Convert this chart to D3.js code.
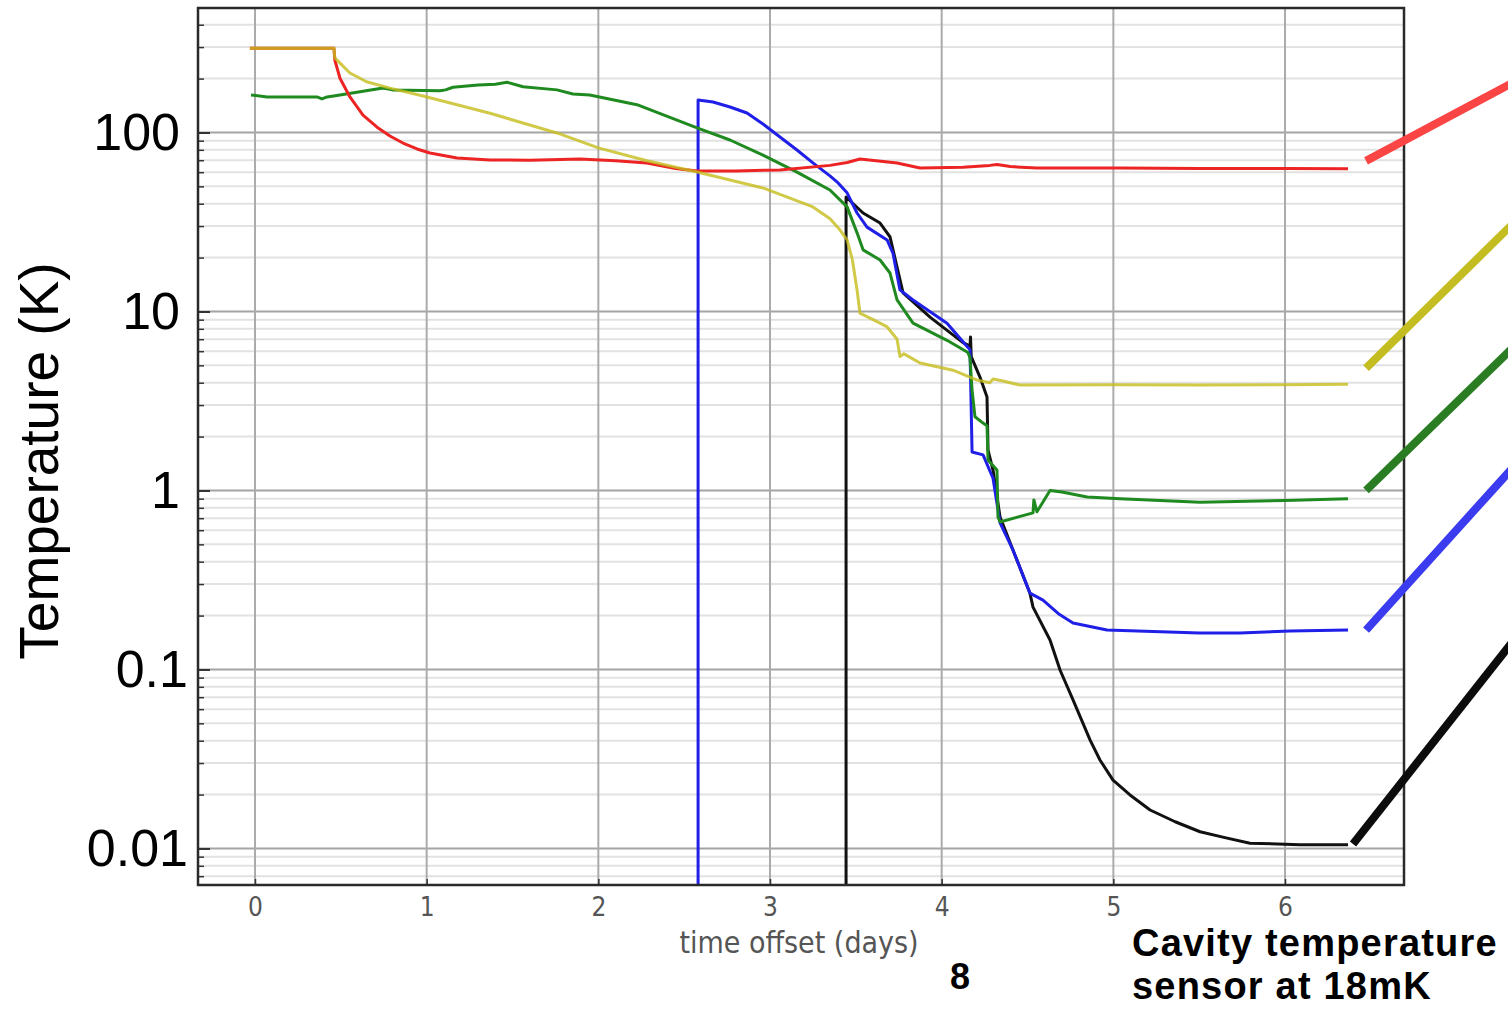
<!DOCTYPE html>
<html>
<head>
<meta charset="utf-8">
<script src="https://cdn.jsdelivr.net/npm/d3@7"></script>
<style>
  body { margin: 0; background: #fff; }
  svg { display: block; }
</style>
</head>
<body>
<div id="chart-area"></div>
<script>
// readings: [time offset (days), temperature (K)]
var redSeries = [[-0.03,296],[0.46,296],[0.465,254],[0.495,201],[0.553,158],[0.629,125],[0.711,107],[0.786,95.6],
    [0.862,87.3],[0.944,80.9],[1.019,76.8],[1.177,72],[1.369,70.2],[1.6,70],[1.893,71],[2.1,69.5],[2.283,67.6],
    [2.45,63],[2.575,61],[2.8,61],[3.058,61.8],[3.349,65.5],[3.45,68],[3.524,71.1],[3.74,67.6],[3.874,63.3],
    [4.124,64],[4.28,65.5],[4.322,66.2],[4.4,64.5],[4.555,63.3],[5.039,63.3],[5.5,63],[6.0,63],[6.367,62.8]];
var yellowSeries = [[-0.03,296],[0.46,296],[0.465,261],[0.553,215],[0.65,192],[0.786,177],[0.979,160],[1.369,128],
    [1.759,99.4],[2.0,82],[2.283,69.5],[2.575,60.1],[2.959,49],[3.25,38.4],[3.35,33],[3.408,28.5],[3.449,25.1],
    [3.48,19.4],[3.507,13.2],[3.524,9.8],[3.641,8.6],[3.682,8.2],[3.74,7.0],[3.757,5.6],[3.78,5.8],[3.874,5.15],
    [4.066,4.7],[4.206,4.14],[4.28,4.0],[4.3,4.2],[4.35,4.1],[4.456,3.88],[5.0,3.9],[5.5,3.88],[6.0,3.9],[6.367,3.92]];
var greenSeries = [[-0.023,162],[0.07,158],[0.361,158],[0.39,154],[0.42,158],[0.495,162],[0.746,177],[0.80,173],
    [1.078,171],[1.11,173],[1.153,179],[1.30,184],[1.40,186],[1.468,191],[1.561,180],[1.759,173],[1.852,164],
    [1.95,162],[2.225,143],[2.575,106],[2.767,90.8],[2.959,74.8],[3.157,60.1],[3.349,47.7],[3.449,38.4],[3.507,27.5],
    [3.542,22.1],[3.641,19.4],[3.699,16.4],[3.74,11.6],[3.833,8.6],[4.031,6.9],[4.153,5.9],[4.165,5.5],[4.177,3.64],
    [4.194,2.58],[4.241,2.38],[4.264,2.3],[4.27,1.48],[4.322,1.30],[4.328,0.71],[4.34,0.667],[4.532,0.75],
    [4.537,0.885],[4.555,0.76],[4.631,1.0],[4.70,0.98],[4.847,0.92],[5.039,0.90],[5.505,0.86],[6.0,0.88],[6.367,0.90]];
var blueSeries = [[2.581,0.001],[2.581,152],[2.668,148],[2.767,138.8],[2.866,128.5],[2.959,111.5],[3.058,94.4],
    [3.157,79.8],[3.25,67.6],[3.349,57.2],[3.39,53],[3.449,46],[3.507,35.5],[3.565,29.6],[3.682,25.1],[3.716,21.2],
    [3.757,13.2],[3.833,11.6],[4.031,8.6],[4.153,6.3],[4.165,6.1],[4.177,1.64],[4.241,1.58],[4.299,1.17],[4.34,0.66],
    [4.415,0.466],[4.514,0.267],[4.59,0.244],[4.68,0.205],[4.765,0.182],[4.963,0.166],[5.5,0.16],[5.738,0.16],
    [6.029,0.164],[6.367,0.166]];
var blackSeries = [[3.443,0.001],[3.443,43.6],[3.542,35.5],[3.641,31.2],[3.699,26.1],[3.74,17.7],[3.775,12.7],
    [3.932,9.3],[4.124,6.7],[4.165,6.4],[4.168,7.2],[4.172,5.6],[4.223,4.3],[4.264,3.33],[4.27,1.68],[4.299,1.30],
    [4.34,0.71],[4.514,0.267],[4.532,0.223],[4.631,0.146],[4.69,0.099],[4.765,0.0676],[4.864,0.0404],[4.922,0.0312],
    [4.998,0.0241],[5.097,0.0199],[5.214,0.0164],[5.36,0.0141],[5.505,0.0124],[5.65,0.0115],[5.796,0.0107],
    [6.087,0.0105],[6.367,0.0105]];

// leader lines on the right, [from, to] in the same units
var leaders = [
    {color: "#fb4444", pts: [[6.472,69.4],[7.35,195]]},
    {color: "#c4bd22", pts: [[6.472,4.83],[7.35,32.5]]},
    {color: "#2a7d22", pts: [[6.472,1.0],[7.35,6.6]]},
    {color: "#3b3bef", pts: [[6.472,0.166],[7.35,1.42]]},
    {color: "#0c0c0c", pts: [[6.396,0.0106],[7.35,0.153]]}
];

var dayTicks = [0, 1, 2, 3, 4, 5, 6];
var tempTicks = [0.01, 0.1, 1, 10, 100];
var tempLabels = ["0.01", "0.1", "1", "10", "100"];

var margin = {top: 8, right: 104, bottom: 126, left: 198};
var width = 1508 - margin.left - margin.right,
    height = 1011 - margin.top - margin.bottom;

var svg = d3.select("#chart-area").append("svg")
    .attr("width", 1508)
    .attr("height", 1011);
var g = svg.append("g")
    .attr("transform", "translate(" + margin.left + "," + margin.top + ")");

var x = d3.scaleLinear().domain([-0.332, 6.693]).range([0, width]);
var y = d3.scaleLog().domain([0.00625, 496]).range([height, 0]);

// minor decade values inside the domain
var minorTicks = [];
[0.001, 0.01, 0.1, 1, 10, 100].forEach(function(d) {
    for (var k = 2; k <= 9; k++) {
        var v = d * k;
        if (v > y.domain()[0] && v < y.domain()[1]) minorTicks.push(v);
    }
});

svg.append("defs").append("clipPath").attr("id", "plot-clip")
    .append("rect").attr("width", width).attr("height", height);

// grid
g.append("g").selectAll("line").data(minorTicks).enter().append("line")
    .attr("x1", 0).attr("x2", width)
    .attr("y1", function(d) { return y(d); }).attr("y2", function(d) { return y(d); })
    .style("stroke", "#e2e2e2").style("stroke-width", 2);
g.append("g").selectAll("line").data(tempTicks).enter().append("line")
    .attr("x1", 0).attr("x2", width)
    .attr("y1", function(d) { return y(d); }).attr("y2", function(d) { return y(d); })
    .style("stroke", "#a4a4a4").style("stroke-width", 2);
g.append("g").selectAll("line").data(dayTicks).enter().append("line")
    .attr("x1", function(d) { return x(d); }).attr("x2", function(d) { return x(d); })
    .attr("y1", 0).attr("y2", height)
    .style("stroke", "#ababab").style("stroke-width", 2);

// data lines
var line = d3.line()
    .x(function(d) { return x(d[0]); })
    .y(function(d) { return y(d[1]); });

var series = [
    {data: blackSeries, color: "#111111", opacity: 1},
    {data: blueSeries, color: "#1f1fe8", opacity: 1},
    {data: greenSeries, color: "#1f8a1f", opacity: 1},
    {data: redSeries, color: "#ec2424", opacity: 1},
    {data: yellowSeries, color: "#c6bd1c", opacity: 0.8}
];

g.append("g").attr("clip-path", "url(#plot-clip)")
    .selectAll("path").data(series).enter().append("path")
    .attr("d", function(d) { return line(d.data); })
    .style("fill", "none")
    .style("stroke", function(d) { return d.color; })
    .style("stroke-opacity", function(d) { return d.opacity; })
    .style("stroke-width", 3)
    .style("stroke-linejoin", "round");

// axes, ticks pointing inward
var yAxis = g.append("g")
    .call(d3.axisLeft(y).tickValues(tempTicks).tickSize(-12).tickPadding(18)
        .tickFormat(function(d, i) { return tempLabels[i]; }));
yAxis.select(".domain").remove();
yAxis.selectAll("line").style("stroke", "#333").style("stroke-width", 2);
yAxis.selectAll("text")
    .attr("dx", function(d, i) { return tempLabels[i].indexOf(".") >= 0 ? 8 : 0; })
    .style("font-family", "'Liberation Sans', Arial, sans-serif")
    .style("font-size", "52px")
    .style("fill", "#000");

var yMinor = g.append("g")
    .call(d3.axisLeft(y).tickValues(minorTicks).tickSize(-6).tickFormat(""));
yMinor.select(".domain").remove();
yMinor.selectAll("line").style("stroke", "#333").style("stroke-width", 1.5);

var xAxis = g.append("g")
    .attr("transform", "translate(0," + height + ")")
    .call(d3.axisBottom(x).tickValues(dayTicks).tickSize(-6).tickPadding(13).tickFormat(d3.format("d")));
xAxis.select(".domain").remove();
xAxis.selectAll("line").style("stroke", "#333").style("stroke-width", 1.5);
xAxis.selectAll("text")
    .style("font-family", "'DejaVu Sans Condensed', 'DejaVu Sans', sans-serif")
    .style("font-size", "26px")
    .style("fill", "#555");

// frame
g.append("rect")
    .attr("width", width).attr("height", height)
    .style("fill", "none").style("stroke", "#2a2a2a").style("stroke-width", 2.5);

// axis titles
svg.append("text")
    .attr("transform", "translate(58,461) rotate(-90)")
    .style("text-anchor", "middle")
    .style("font-family", "'Liberation Sans', Arial, sans-serif")
    .style("font-size", "55px")
    .text("Temperature (K)");

svg.append("text")
    .attr("x", 799).attr("y", 953)
    .style("text-anchor", "middle")
    .style("font-family", "'DejaVu Sans Condensed', 'DejaVu Sans', sans-serif")
    .style("font-size", "30px")
    .style("fill", "#555")
    .text("time offset (days)");

svg.append("text")
    .attr("x", 960).attr("y", 989)
    .style("text-anchor", "middle")
    .style("font-family", "'Liberation Sans Narrow', 'Liberation Sans', Arial, sans-serif")
    .style("font-weight", "bold")
    .style("font-size", "36px")
    .text("8");

// annotation
var noteLines = ["Cavity temperature", "sensor at 18mK"];
svg.append("g").selectAll("text").data(noteLines).enter().append("text")
    .attr("x", 1132)
    .attr("y", function(d, i) { return 956 + i * 43; })
    .style("font-family", "'Liberation Sans', Arial, sans-serif")
    .style("font-weight", "bold")
    .style("font-size", "38px")
    .style("letter-spacing", "1.2px")
    .text(function(d) { return d; });

// leader lines toward the sensor labels
g.append("g").selectAll("path").data(leaders).enter().append("path")
    .attr("d", function(d) { return line(d.pts); })
    .style("fill", "none")
    .style("stroke", function(d) { return d.color; })
    .style("stroke-width", 8);
</script>
</body>
</html>
